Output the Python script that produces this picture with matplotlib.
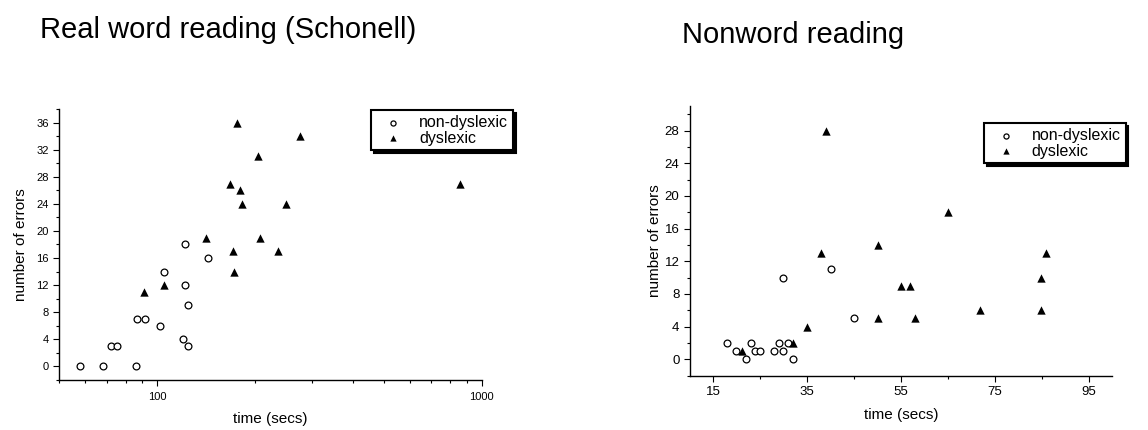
import matplotlib.pyplot as plt
import matplotlib.ticker as mticker

plt.rcParams['font.family'] = ['Liberation Sans', 'DejaVu Sans']

# Real word reading (Schonell): time (secs, log axis) vs number of errors
real_non_t = [58, 68, 72, 75, 86, 87, 92, 102, 105, 120, 122, 122, 124.5, 124.5, 143]
real_non_e = [0, 0, 3, 3, 0, 7, 7, 6, 14, 4, 12, 18, 9, 3, 16]
real_dys_t = [91, 105, 141, 168, 171, 172, 176, 180, 182, 205, 208, 235, 250, 275, 860]
real_dys_e = [11, 12, 19, 27, 17, 14, 36, 26, 24, 31, 19, 17, 24, 34, 27]

# Nonword reading
non_non_t = [17.9, 19.8, 21.9, 23, 23.9, 25, 28, 28.9, 29.9, 29.9, 30.8, 31.9, 40, 44.9]
non_non_e = [2, 1, 0, 2, 1, 1, 1, 2, 10, 1, 2, 0, 11, 5]
non_dys_t = [21, 32, 35, 37.9, 39, 50, 50, 54.9, 56.9, 58, 64.9, 71.9, 84.9, 84.9, 85.9]
non_dys_e = [1, 2, 4, 13, 28, 14, 5, 9, 9, 5, 18, 6, 10, 6, 13]

fig = plt.figure(figsize=(11.48, 4.30), dpi=100)

ax1 = fig.add_axes([0.0517, 0.1163, 0.3679, 0.6302])
ax2 = fig.add_axes([0.6010, 0.1263, 0.3679, 0.6272])

mk_c = dict(marker='o', s=24, facecolors='white', edgecolors='black', linewidths=0.9)
mk_t = dict(marker='^', s=36, color='black', linewidths=0)


def style(ax, fs, xpad, ylpad):
    for s in ['top', 'right']:
        ax.spines[s].set_visible(False)
    for s in ['left', 'bottom']:
        ax.spines[s].set_linewidth(1.0)
    ax.tick_params(which='major', direction='out', length=4, width=0.8, labelsize=fs)
    ax.tick_params(which='minor', direction='out', length=2.5, width=0.8)
    ax.tick_params(axis='x', which='major', pad=xpad)
    ax.set_xlabel('time (secs)', fontsize=11, labelpad=7)
    ax.set_ylabel('number of errors', fontsize=11, labelpad=ylpad)


# left chart
ax1.scatter(real_non_t, real_non_e, label='non-dyslexic', **mk_c)
ax1.scatter(real_dys_t, real_dys_e, label='dyslexic', **mk_t)
ax1.set_xscale('log')
ax1.set_xlim(50, 1000)
ax1.set_ylim(-2, 38)
ax1.xaxis.set_major_locator(mticker.FixedLocator([100, 1000]))
ax1.xaxis.set_major_formatter(mticker.FixedFormatter(['100', '1000']))
ax1.xaxis.set_minor_locator(mticker.LogLocator(subs=range(2, 10)))
ax1.xaxis.set_minor_formatter(mticker.NullFormatter())
ax1.yaxis.set_major_locator(mticker.MultipleLocator(4))
ax1.yaxis.set_minor_locator(mticker.MultipleLocator(2))
style(ax1, 8, 5, 6)

# right chart
ax2.scatter(non_non_t, non_non_e, label='non-dyslexic', **mk_c)
ax2.scatter(non_dys_t, non_dys_e, label='dyslexic', **mk_t)
ax2.set_xlim(10, 100)
ax2.set_ylim(-2, 31)
ax2.xaxis.set_major_locator(mticker.FixedLocator([15, 35, 55, 75, 95]))
ax2.xaxis.set_minor_locator(mticker.FixedLocator([25, 45, 65, 85]))
ax2.yaxis.set_major_locator(mticker.MultipleLocator(4))
ax2.yaxis.set_minor_locator(mticker.MultipleLocator(2))
style(ax2, 9.5, 3.6, 2)

for ax, anchor in [(ax1, (0.3232, 0.7442)), (ax2, (0.8571, 0.7140))]:
    leg = ax.legend(loc='upper left', bbox_to_anchor=anchor, bbox_transform=fig.transFigure,
                    fontsize=11.5, frameon=True, fancybox=False,
                    shadow={'color': 'black', 'alpha': 1},
                    borderpad=0.3, labelspacing=0.05, handletextpad=0.55,
                    handlelength=2.15, borderaxespad=0, markerscale=0.75)
    leg.get_frame().set_edgecolor('black')
    leg.get_frame().set_linewidth(1.5)

fig.text(40 / 1148, 1 - 38 / 430, 'Real word reading (Schonell)', fontsize=21,
         ha='left', va='baseline')
fig.text(682 / 1148, 1 - 43 / 430, 'Nonword reading', fontsize=21,
         ha='left', va='baseline')

fig.savefig('out.png', dpi=100)
